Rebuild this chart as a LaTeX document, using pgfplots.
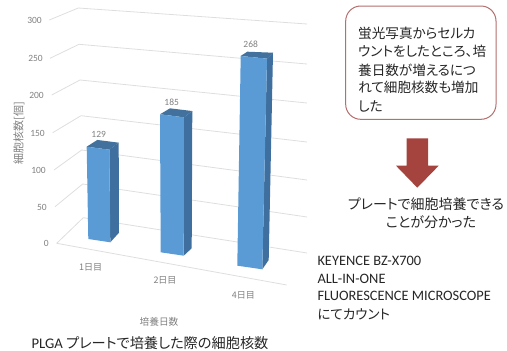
\documentclass[border=0pt]{standalone}
\usepackage{pgfplots}
\pgfplotsset{compat=1.18}
\usepackage{fontspec}
\setmainfont{Carlito}
\newfontfamily\jp[RawFeature=+palt]{Noto Sans CJK JP}
\definecolor{barfront}{HTML}{5B9BD5}
\definecolor{barside}{HTML}{3F6F9E}
\definecolor{bartop}{HTML}{41719C}
\definecolor{gridc}{HTML}{DEDEDE}
\definecolor{axtext}{HTML}{808080}
\definecolor{boxedge}{HTML}{B56F6E}
\definecolor{arrowc}{HTML}{A5443F}
\definecolor{inkc}{HTML}{262626}

\newcommand{\fs}[1]{\fontsize{#1}{#1}\selectfont}

% One face of a 3-D bar: each corner is x, its floor position y0, and the
% pixels per unit k, so that the height comes from the value itself.
\newcommand{\barface}[3]{%
  \addplot[fill=#1,draw=none,no marks] table[row sep=\\,x=x,
    y expr=\thisrow{y0}-\thisrow{k}*#2]{x y0 k\\ #3} -- cycle;}

% Grid line running from the front of the side wall to the far end of the back wall
\newcommand{\wall}[6]{%
  \addplot[gridc,line width=0.8pt,no marks] coordinates {(#1,#2) (#3,#4) (#5,#6)};}

\newcommand{\ticklab}[3]{\node[anchor=east,text=axtext,font=\fs{9.5},inner sep=0pt] at (axis cs:#2,#3) {#1};}
\newcommand{\boxline}[2]{\node[anchor=west,text=inkc,font=\jp\fs{13.6},inner sep=0pt] at (axis cs:358,#2) {#1};}

\begin{document}
\begin{tikzpicture}
\begin{axis}[
  hide axis, scale only axis, width=507pt, height=351pt,
  xmin=0, xmax=507, ymin=0, ymax=351, y dir=reverse, clip=false,
  enlargelimits=false, /pgf/number format/assume math mode=true]

% full canvas
\path (axis cs:0,0) rectangle (axis cs:507,351);

% walls and floor
\wall{49.3}{20}{78.3}{8}{307}{24}
\wall{50}{58.3}{79}{44.3}{307}{64}
\wall{51.7}{95}{80}{80}{307}{103}
\wall{52.7}{132.7}{81}{115.7}{307}{142}
\wall{54}{170}{81.7}{150}{307}{180}
\wall{55}{206.7}{82.7}{184}{307}{217}
\wall{56.7}{243.3}{83.3}{217.7}{307}{253}
\addplot[gridc,line width=0.8pt,no marks] coordinates {(56.7,243.3) (286.7,285)};

% day 1
\barface{barside}{129}{109.3 242.3 0.718\\ 110.3 242.3 0\\ 119 232.7 0\\ 118.7 232.7 0.698\\}
\barface{bartop}{129}{86.7 239 0.7155\\ 97.3 230 0.698\\ 118.7 232.7 0.698\\ 109.3 242.3 0.718\\}
\barface{barfront}{129}{88.3 239 0\\ 110.3 242.3 0\\ 109.3 242.3 0.718\\ 86.7 239 0.7155\\}
% day 2
\barface{barside}{185}{183.7 255.7 0\\ 191.7 248.3 0\\ 192.3 248.3 0.742\\ 184 255.7 0.748\\}
\barface{bartop}{185}{160 252.3 0.746\\ 170 245.6 0.742\\ 192.3 248.3 0.742\\ 184 255.7 0.748\\}
\barface{barfront}{185}{160.7 252.3 0\\ 183.7 255.7 0\\ 184 255.7 0.748\\ 160 252.3 0.746\\}
% day 4
\barface{barside}{268}{262.3 269.3 0\\ 268.7 260 0\\ 273 260 0.7735\\ 267 269.3 0.786\\}
\barface{bartop}{268}{240.7 265.7 0.7825\\ 247.3 259 0.7735\\ 273 260 0.7735\\ 267 269.3 0.786\\}
\barface{barfront}{268}{237.3 265.7 0\\ 262.3 269.3 0\\ 267 269.3 0.786\\ 240.7 265.7 0.7825\\}

% value labels above the bars
\addplot[draw=none,no marks,point meta=explicit,
  nodes near coords={\pgfmathprintnumber{\pgfplotspointmeta}},
  nodes near coords align={center},
  every node near coord/.append style={text=axtext,font=\fs{9.5},inner sep=0pt}]
  table[row sep=\\,x=x,y expr=\thisrow{y0}-\thisrow{k}*\thisrow{value}-12,meta=value]{
  x y0 k value\\
  98.7 239 0.7155 129\\
  171.7 252.3 0.746 185\\
  250.7 265.7 0.7825 268\\
};

% value axis labels
\ticklab{300}{42}{20}
\ticklab{250}{43}{58}
\ticklab{200}{44}{95}
\ticklab{150}{45}{133}
\ticklab{100}{46}{170}
\ticklab{50}{47}{207}
\ticklab{0}{49}{243}
\node[rotate=90,text=axtext,font=\jp\fs{11},inner sep=0pt] at (axis cs:19,133) {細胞核数[個]};

% category labels
\node[text=axtext,font=\jp\fs{9},inner sep=0pt] at (axis cs:90.7,267.7) {1日目};
\node[text=axtext,font=\jp\fs{9},inner sep=0pt] at (axis cs:165,280.7) {2日目};
\node[text=axtext,font=\jp\fs{9},inner sep=0pt] at (axis cs:243.3,295) {4日目};
\node[text=axtext,font=\jp\fs{9.7},inner sep=0pt] at (axis cs:159,322) {培養日数};

% caption
\node[text=inkc,inner sep=0pt] at (axis cs:150,343)
  {\fs{14.7}PLGA {\jp\fs{14.2}プレートで培養した際の細胞核数}};

% finding box
\draw[boxedge,line width=1pt,rounded corners=15pt,fill=white]
  (axis cs:345.7,6) rectangle (axis cs:496,119.3);
\boxline{蛍光写真からセルカ}{33}
\boxline{ウントをしたところ、培}{51.7}
\boxline{養日数が増えるにつ}{70}
\boxline{れて細胞核数も増加}{87.7}
\boxline{した}{106}

% arrow
\fill[arrowc] (axis cs:406.7,138.3) -- (axis cs:428,138.3) -- (axis cs:428,165.7)
  -- (axis cs:438.7,165.7) -- (axis cs:417.3,187.7) -- (axis cs:396,165.7)
  -- (axis cs:406.7,165.7) -- cycle;

% conclusion
\node[text=inkc,font=\jp\fs{14},inner sep=0pt] at (axis cs:426,204) {プレートで細胞培養できる};
\node[text=inkc,font=\jp\fs{14},inner sep=0pt] at (axis cs:431,221.7) {ことが分かった};

% instrument note
\node[anchor=west,text=inkc,font=\fs{14.4},inner sep=0pt] at (axis cs:317.3,261) {KEYENCE BZ-X700};
\node[anchor=west,text=inkc,font=\fs{14.4},inner sep=0pt] at (axis cs:317.3,278.7) {ALL-IN-ONE};
\node[anchor=west,text=inkc,font=\fs{14.4},inner sep=0pt] at (axis cs:317.3,296) {FLUORESCENCE MICROSCOPE};
\node[anchor=west,text=inkc,font=\jp\fs{13.5},inner sep=0pt] at (axis cs:317.3,314) {にてカウント};
\end{axis}
\end{tikzpicture}
\end{document}
